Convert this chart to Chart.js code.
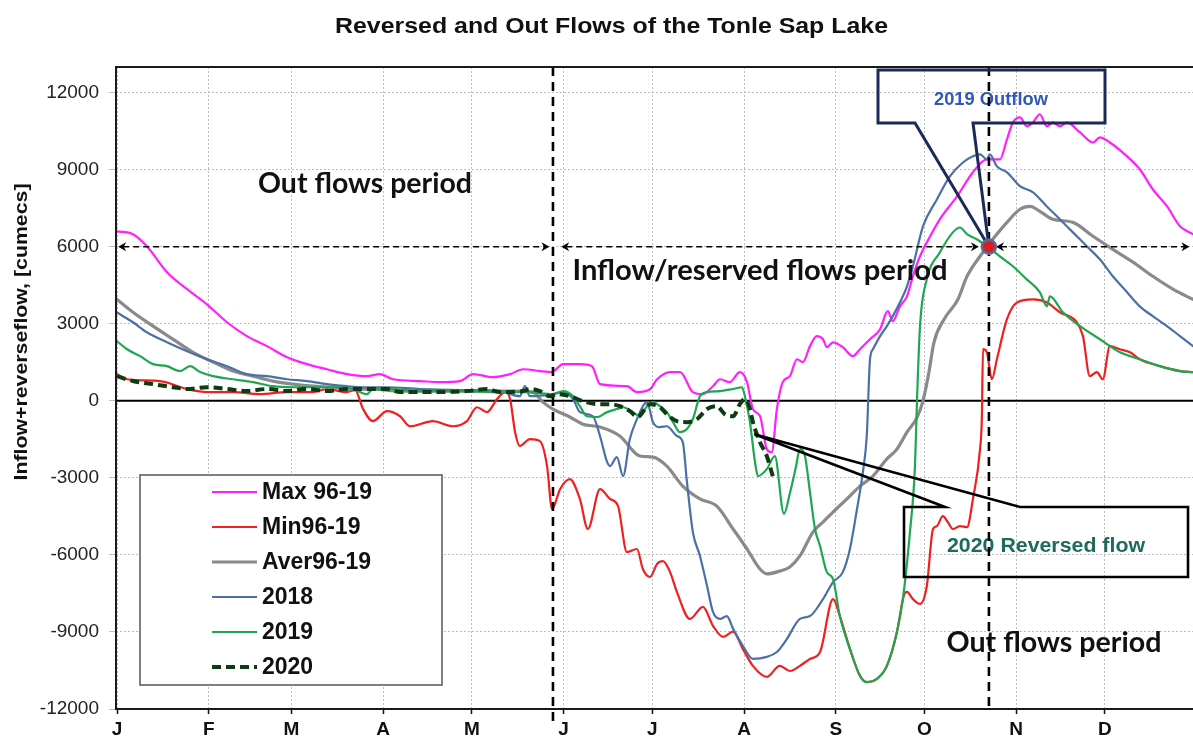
<!DOCTYPE html>
<html>
<head>
<meta charset="utf-8">
<script src="https://cdn.jsdelivr.net/npm/chart.js@4.4.1/dist/chart.umd.min.js"></script>
<style>
html,body{margin:0;padding:0;background:#fff;}
#wrap{width:1193px;height:740px;position:relative;background:#fff;}
canvas{display:block;}
</style>
</head>
<body>
<div id="wrap"><canvas id="c" width="1193" height="740"></canvas></div>
<script>
// ---------------- DATA ----------------
const monthDays   = [0,31,59,90,120,151,181,212,243,273,304,334];
const monthLabels = ['J','F','M','A','M','J','J','A','S','O','N','D'];
const yTicks      = [-12000,-9000,-6000,-3000,0,3000,6000,9000,12000];
const seriesNames = ['Max 96-19','Min96-19','Aver96-19','2018','2019','2020'];

const maxDays = [0,5.4,10.1,16.9,23.7,30.4,37.2,43.9,50.7,57.5,64.2,71,77.8,84.5,88.9,93.3,102.4,109.2,116,120.4,127.1,132.9,137.3,143,147,150.8,156.5,160.6,163.3,172.4,175.8,180.2,182.6,187,190.4,194.7,198.1,201.5,203.9,207.2,210.6,213,215,217.4,219.7,221.4,223.1,225.1,227.5,229.9,231.9,234.3,236.6,238.7,240,242.1,245.4,248.8,251.2,254.6,258,260.6,262.3,264.7,267.1,269.1,271.5,273.8,278.2,284,289.4,294.1,298.5,300.9,302.9,305.3,307.6,309.7,312,314.4,316.4,318.8,321.2,325.6,330,332.3,335.7,341.5,345.8,350.2,355,359.4,363.8];
const maxVals = [6600,6490,6020,5010,4350,3760,3060,2520,2130,1700,1430,1230,1040,960,1040,840,770,730,770,1040,920,1040,1230,1160,1120,1430,1430,1350,650,570,340,450,840,1120,1120,340,260,570,840,730,1120,730,-320,-590,-1880,-2000,-320,730,960,1620,1510,2130,2520,2400,2090,2280,2090,1740,2010,2400,2790,3490,3100,3680,4070,4850,5630,6170,7070,7960,8900,9400,9400,10180,10840,11040,10690,10840,11160,10690,10840,10690,10840,10450,10060,10260,10060,9520,9020,8240,7580,6800,6490];

const minDays = [0,3.4,14.5,23.7,30.4,39.2,48.3,57.5,66.3,71,77.8,80.5,83.2,86.5,91.3,95.7,99,106.8,113.6,118.3,121.7,125.1,128.5,131.2,132.9,134.6,136.2,139.6,143,145.4,147.1,149.8,153.1,156.5,159.2,163.3,166.7,169.4,172.4,175.8,177.8,180.2,182.6,184.6,187,189.3,193.7,198.1,201.5,204.9,208.3,211.6,215,219.7,224.1,227.5,230.9,234.3,237.7,242.1,244.4,247.8,251.2,253.5,256.9,260.3,263.7,266,267.1,269.1,271.5,273.8,275.9,277.2,279.2,280.9,282.6,285,287.4,289.4,291.8,292.4,292.8,294.1,295.8,297.5,300.9,304.3,309.7,314.4,318.8,324.5,326.6,328.9,331.3,333.3,335.7,339.1,342.5,345.8,352.6,359.4,363.8];
const minVals = [1040,840,770,460,340,340,260,340,340,460,340,420,-320,-790,-400,-600,-990,-790,-990,-790,-250,-440,70,340,70,-1220,-1760,-1490,-1570,-2540,-4210,-3440,-3050,-3820,-4990,-3440,-3820,-4100,-5890,-5770,-6550,-6860,-6350,-6240,-6670,-7440,-8490,-8020,-8760,-9190,-8990,-9660,-10320,-10750,-10320,-10520,-10320,-10050,-9780,-7720,-8380,-9660,-10710,-10950,-10830,-10320,-9000,-7600,-7440,-7720,-7910,-7210,-4990,-4880,-4490,-4720,-4990,-4880,-4920,-3820,-1880,-710,2010,1890,840,1620,3180,3830,3950,3830,3450,3060,2520,960,1120,840,2130,2010,1890,1620,1350,1160,1120];

const avgDays = [0,5.4,12.2,18.9,25.7,32.5,39.2,46,52.7,59.5,66.3,73,79.8,86.5,95.7,112.6,132.9,140.6,144,147.4,153.1,157.5,163.3,170,176.8,181.2,185.9,191.3,197.1,202.8,208.3,213,217.4,219.7,224.1,227.5,230.9,235.3,238.7,242.1,246.8,251.2,255.6,260.3,263.7,267.1,270.5,272.5,274.5,276.2,279.6,284.3,287.4,291.8,296.1,300.9,305.3,308.7,312,316.4,323.2,330,336.7,343.5,350.2,357,363.8];
const avgVals = [3950,3450,2910,2400,1890,1510,1160,960,770,650,570,530,460,460,380,380,380,340,-50,-320,-630,-910,-1020,-1370,-2150,-2190,-2540,-3320,-3820,-4100,-4990,-5770,-6550,-6740,-6630,-6470,-6040,-5110,-4720,-4330,-3820,-3320,-2930,-2260,-1880,-1220,-650,0,1100,2270,3170,3950,4850,5630,6290,6950,7460,7570,7380,7070,6950,6410,5900,5400,4850,4350,3950];

const y2018Days = [0,5.4,10.1,16.9,23.7,30.4,37.2,43.9,50.7,57.5,64.2,71,77.8,84.5,91.3,102.4,116,129.5,136.2,137.9,139.6,147.4,150.8,154.2,156.5,160.9,163.3,165.7,166.7,169,171.1,173.4,175.8,177.8,179.2,181.2,183.6,185.9,189.3,191.3,192.7,194.7,197.1,199.5,201.5,203.9,206.2,208.3,211.6,215,219.7,223.1,226.5,230.9,234.3,238.7,242.1,245.4,247.8,250.2,252.2,253.5,254.6,255.6,258,260.3,262.3,264.7,267.1,269.1,272.5,277.2,281.6,286,289.4,291.8,294.1,295.1,297.5,300.9,305.3,309.7,314.4,318.8,323.2,327.9,332.3,336.7,341.5,345.8,350.2,355,359.4,363.8];
const y2018Vals = [3440,3060,2670,2280,1930,1620,1350,1040,960,840,770,650,570,530,530,460,420,380,180,570,180,260,340,70,-440,-600,-1370,-2380,-2540,-2190,-2930,-1490,-710,-210,-50,-830,-1020,-990,-1370,-1610,-3160,-5110,-6040,-7210,-8220,-8490,-8380,-8880,-9540,-10050,-9970,-9780,-9270,-8490,-8380,-7720,-7060,-6670,-5770,-4210,-2770,-1370,1620,2010,2520,2910,3300,3830,4460,5240,6790,7840,8740,9280,9520,9600,9400,9600,9130,8900,8360,8120,7570,7070,6560,6020,5510,4850,4230,3680,3300,2910,2520,2130];

const y2019Days = [0,3.4,7.8,12.2,16.9,21.3,24.7,28.1,32.5,39.2,46,52.7,59.5,66.3,73,79.8,84.5,86.5,93.3,102.4,116,129.5,138.6,147.4,150.8,154.2,156.5,158.9,162.3,165.7,169,171.1,174.4,176.8,179.2,181.2,183.6,185.9,188,190.3,192.7,194.7,197.1,199.5,203.9,208.3,211.3,212.3,214,215.7,216.7,219.7,222.4,225.5,227.5,229.5,230.9,232.6,234.3,236,237.7,240,242.1,244.4,247.8,251.2,253.5,256.9,260.3,263.7,265.7,268.1,269.8,270.5,271.5,273.8,278.2,282.6,285,287.4,290.7,294.1,298.5,302.9,307.6,312,314.4,315.4,319.8,325.6,332.3,339.1,345.8,352.6,359.4,363.8];
const y2019Vals = [2320,2010,1740,1430,1350,1160,1350,1120,960,840,730,570,530,530,530,460,260,460,460,380,380,340,340,260,380,180,-210,-600,-630,-440,-320,-250,-440,-600,-210,-50,-210,-440,-830,-1220,-1100,-710,180,340,380,460,530,180,-830,-2380,-2930,-2660,-2150,-4400,-3600,-2600,-1880,-2150,-3560,-4990,-5650,-6670,-6940,-8380,-9660,-10710,-10950,-10830,-10320,-9000,-7720,-5110,-2540,70,2910,4730,5780,6560,6750,6490,6290,6020,5630,5240,4730,4230,3680,4070,3450,2910,2400,1890,1620,1350,1160,1120];

const y2020Days = [0,5.4,12.2,18.9,23.7,30.4,37.2,43.9,50.7,57.5,64.2,71,77.8,84.5,91.3,95.7,106.8,118.3,125.1,129.5,137.3,139.6,143,146.4,148.8,153.1,157.5,162.3,166.7,170,173.4,176.1,178.5,180.2,183.6,185.9,189.3,192.7,196.1,199.5,202.8,205.5,208.3,210.6,212.3,214,215,217.4,219.7,221.8];
const y2020Vals = [960,770,650,530,460,530,460,380,460,380,460,380,460,460,460,340,340,380,460,340,380,460,380,180,260,180,-10,-130,-130,-210,-400,-630,-320,-130,-250,-520,-790,-830,-710,-320,-210,-520,-600,-130,70,-320,-830,-1610,-2150,-2970];

const outflowDays = [294.8];
const outflowVals = [6000];
// ---------------------------------------

const FONT = '"Liberation Sans", Arial, Helvetica, sans-serif';
const toPts = (d, v) => d.map((x, i) => ({x: x, y: v[i]}));

function fitText(ctx, text, cx, by, font, targetW, color, rot) {
  ctx.save();
  ctx.font = font;
  const w = ctx.measureText(text).width;
  const sx = targetW ? targetW / w : 1;
  ctx.translate(cx, by);
  if (rot) ctx.rotate(rot);
  ctx.scale(sx, 1);
  ctx.textAlign = 'center';
  ctx.textBaseline = 'alphabetic';
  ctx.fillStyle = color;
  ctx.fillText(text, 0, 0);
  ctx.restore();
}

function arrowHead(ctx, x, y, dir) {
  ctx.beginPath();
  ctx.moveTo(x, y);
  ctx.lineTo(x - dir * 8, y - 4.5);
  ctx.lineTo(x - dir * 5.5, y);
  ctx.lineTo(x - dir * 8, y + 4.5);
  ctx.closePath();
  ctx.fill();
}

const MARKER_INDEX = 6;

const annotations = {
  id: 'annotations',
  beforeDatasetsDraw(chart) {
    const {ctx, chartArea: a, scales: {y}} = chart;
    const y0 = y.getPixelForValue(0);
    ctx.save();
    ctx.strokeStyle = '#000';
    ctx.lineWidth = 2;
    ctx.beginPath(); ctx.moveTo(a.left, y0); ctx.lineTo(a.right, y0); ctx.stroke();
    ctx.restore();
  },
  beforeDatasetDraw(chart, args) {
    if (args.index !== MARKER_INDEX) return;
    const {ctx, chartArea: a, scales: {x, y}} = chart;
    ctx.save();

    // period texts
    fitText(ctx, 'Out flows period', 365, 193, 'bold 28px Lato, "Open Sans", sans-serif', 214, '#111');
    fitText(ctx, 'Inflow/reserved flows period', 760, 280, 'bold 28px Lato, "Open Sans", sans-serif', 375, '#111');
    fitText(ctx, 'Out flows period', 1054, 652, 'bold 28px Lato, "Open Sans", sans-serif', 215, '#111');

    // callout texts
    fitText(ctx, '2019 Outflow', 991, 105, 'bold 18px ' + FONT, 114, '#3157b7');
    fitText(ctx, '2020 Reversed flow', 1046, 552, 'bold 21px ' + FONT, 198, '#1c6b5b');

    // horizontal period arrows at 6000
    const ya = y.getPixelForValue(6000);
    ctx.strokeStyle = '#000';
    ctx.fillStyle = '#000';
    ctx.lineWidth = 1.6;
    ctx.setLineDash([6, 4]);
    const segs = [[0.4, 146.2], [150.2, 291.4], [297.2, 362.6]];
    segs.forEach(s => {
      const x1 = x.getPixelForValue(s[0]), x2 = x.getPixelForValue(s[1]);
      ctx.beginPath(); ctx.moveTo(x1 + 5, ya); ctx.lineTo(x2 - 5, ya); ctx.stroke();
    });
    ctx.setLineDash([]);
    segs.forEach(s => {
      arrowHead(ctx, x.getPixelForValue(s[0]), ya, -1);
      arrowHead(ctx, x.getPixelForValue(s[1]), ya, 1);
    });

    // vertical dashed period separators
    ctx.lineWidth = 2.6;
    ctx.setLineDash([9, 6]);
    const xv1 = x.getPixelForValue(147.4), xv2 = x.getPixelForValue(294.8);
    ctx.beginPath(); ctx.moveTo(xv1, a.top); ctx.lineTo(xv1, 722); ctx.stroke();
    ctx.beginPath(); ctx.moveTo(xv2, a.top); ctx.lineTo(xv2, 708); ctx.stroke();
    ctx.setLineDash([]);

    // 2019 callout
    const mx = x.getPixelForValue(outflowDays[0]), my = y.getPixelForValue(outflowVals[0]);
    ctx.strokeStyle = '#1b2a58';
    ctx.lineWidth = 3;
    ctx.lineJoin = 'miter';
    ctx.beginPath();
    ctx.moveTo(915, 123); ctx.lineTo(878, 123); ctx.lineTo(878, 70); ctx.lineTo(1105, 70);
    ctx.lineTo(1105, 123); ctx.lineTo(973, 123); ctx.lineTo(mx, my); ctx.closePath();
    ctx.stroke();

    // 2020 callout
    const px = x.getPixelForValue(215.5), py = y.getPixelForValue(-1300);
    ctx.strokeStyle = '#000';
    ctx.lineWidth = 2.6;
    ctx.beginPath();
    ctx.moveTo(945, 507); ctx.lineTo(904, 507); ctx.lineTo(904, 577); ctx.lineTo(1188, 577);
    ctx.lineTo(1188, 507); ctx.lineTo(1020, 507); ctx.lineTo(px, py); ctx.closePath();
    ctx.stroke();

    // plot frame (left, top, bottom)
    ctx.strokeStyle = '#1a1a1a';
    ctx.lineWidth = 2;
    ctx.beginPath();
    ctx.moveTo(a.right, a.top); ctx.lineTo(a.left, a.top); ctx.lineTo(a.left, a.bottom); ctx.lineTo(a.right, a.bottom);
    ctx.stroke();

    // legend
    ctx.fillStyle = '#fff';
    ctx.fillRect(140, 475, 302, 210);
    ctx.strokeStyle = '#555';
    ctx.lineWidth = 1.5;
    ctx.strokeRect(140, 475, 302, 210);
    const ds = chart.data.datasets;
    for (let i = 0; i < seriesNames.length; i++) {
      const ry = 492 + 35 * i;
      ctx.strokeStyle = ds[i].borderColor;
      ctx.lineWidth = ds[i].borderWidth;
      ctx.setLineDash(ds[i].borderDash || []);
      ctx.beginPath(); ctx.moveTo(212, ry); ctx.lineTo(257, ry); ctx.stroke();
      ctx.setLineDash([]);
      ctx.fillStyle = '#111';
      ctx.font = 'bold 23px ' + FONT;
      ctx.textAlign = 'left';
      ctx.textBaseline = 'middle';
      ctx.fillText(seriesNames[i], 262, ry + 1);
    }
    ctx.restore();
  },
  afterDraw(chart) {
    const ctx = chart.ctx;
    fitText(ctx, 'Reversed and Out Flows of the Tonle Sap Lake', 611.5, 33, 'bold 22px ' + FONT, 553, '#111');
    fitText(ctx, 'Inflow+reverseflow, [cumecs]', 27, 332, 'bold 18px ' + FONT, 297, '#111', -Math.PI / 2);
  }
};

const lineBase = {pointRadius: 0, fill: false, cubicInterpolationMode: 'monotone', borderJoinStyle: 'round', borderCapStyle: 'round'};

new Chart(document.getElementById('c'), {
  type: 'line',
  data: {
    datasets: [
      Object.assign({label: seriesNames[0], data: toPts(maxDays, maxVals), borderColor: '#ff1fff', borderWidth: 2.2, order: 5}, lineBase),
      Object.assign({label: seriesNames[1], data: toPts(minDays, minVals), borderColor: '#ee2020', borderWidth: 2.2, order: 4}, lineBase),
      Object.assign({label: seriesNames[2], data: toPts(avgDays, avgVals), borderColor: '#8a8a8a', borderWidth: 3.2, order: 3}, lineBase),
      Object.assign({label: seriesNames[3], data: toPts(y2018Days, y2018Vals), borderColor: '#4c70a6', borderWidth: 2.2, order: 2}, lineBase),
      Object.assign({label: seriesNames[4], data: toPts(y2019Days, y2019Vals), borderColor: '#20a650', borderWidth: 2.2, order: 1}, lineBase),
      Object.assign({label: seriesNames[5], data: toPts(y2020Days, y2020Vals), borderColor: '#0e3b12', borderWidth: 4, borderDash: [9, 5], order: 0}, lineBase, {borderCapStyle: 'butt'}),
      {label: '2019 Outflow', data: toPts(outflowDays, outflowVals), showLine: false, pointRadius: 7, pointBackgroundColor: '#d81e1e', pointBorderColor: '#5e6a92', pointBorderWidth: 2.5, order: -1}
    ]
  },
  options: {
    responsive: false,
    devicePixelRatio: 1,
    animation: false,
    layout: {autoPadding: false, padding: {top: 67, left: 0, right: 0, bottom: 0}},
    plugins: {legend: {display: false}, tooltip: {enabled: false}, title: {display: false}},
    scales: {
      x: {
        type: 'linear',
        min: -0.34,
        max: 363.8,
        afterBuildTicks: s => { s.ticks = monthDays.map(v => ({value: v})); },
        afterFit: s => { s.height = 31; s.paddingLeft = 0; s.paddingRight = 0; },
        ticks: {
          autoSkip: false, maxRotation: 0, padding: 4,
          callback: v => monthLabels[monthDays.indexOf(v)],
          font: {family: FONT, size: 19, weight: 'bold'}, color: '#111'
        },
        grid: {color: '#bdbdbd', lineWidth: 1, tickLength: 5, tickColor: '#111', tickWidth: 1.5},
        border: {display: false, dash: [2, 2]}
      },
      y: {
        type: 'linear',
        min: -12000,
        max: 13000,
        afterBuildTicks: s => { s.ticks = yTicks.map(v => ({value: v})); },
        afterFit: s => { s.width = 116; s.paddingTop = 0; s.paddingBottom = 0; s.paddingLeft = 0; s.paddingRight = 0; },
        ticks: {
          padding: 10,
          callback: v => String(v),
          font: {family: FONT, size: 19}, color: '#222'
        },
        grid: {color: '#bdbdbd', lineWidth: 1, tickLength: 7},
        border: {display: false, dash: [2, 2]}
      }
    }
  },
  plugins: [annotations]
});
</script>
</body>
</html>
